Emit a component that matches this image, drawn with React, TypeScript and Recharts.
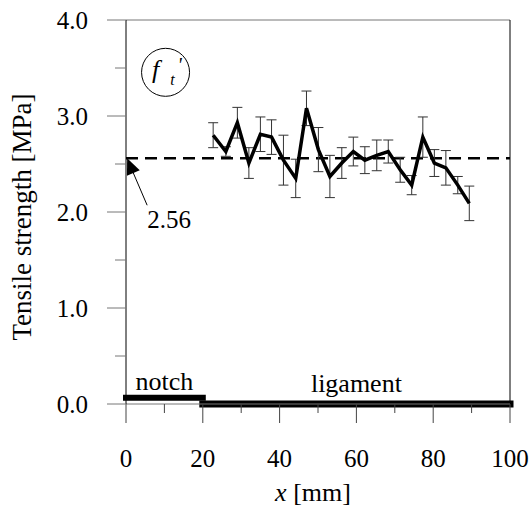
import { ComposedChart, Line, ErrorBar, XAxis, YAxis, ReferenceLine, ReferenceDot, Label } from 'recharts';

const positions = [22.7, 26.0, 29.0, 32.0, 35.0, 37.9, 41.0, 44.2, 47.0, 50.1, 53.1, 56.2, 59.2, 62.2, 65.3, 68.3, 71.4, 74.4, 77.3, 80.3, 83.3, 86.4, 89.4];
const strength = [2.80, 2.63, 2.93, 2.51, 2.81, 2.78, 2.54, 2.35, 3.08, 2.65, 2.37, 2.51, 2.63, 2.54, 2.59, 2.63, 2.44, 2.28, 2.78, 2.51, 2.46, 2.28, 2.09];
const deviation = [0.13, 0.05, 0.16, 0.16, 0.18, 0.18, 0.26, 0.20, 0.18, 0.23, 0.22, 0.16, 0.15, 0.14, 0.16, 0.12, 0.13, 0.10, 0.21, 0.14, 0.18, 0.09, 0.18];

const xTicks = [0, 10, 20, 30, 40, 50, 60, 70, 80, 90, 100];
const yTicks = [0, 0.5, 1, 1.5, 2, 2.5, 3, 3.5, 4];

const meanStrength = 2.56;
const notch = [0, 20];
const notchLevel = 0.065;
const ligament = [20, 100];

const data = positions.map((x, i) => ({ x, y: strength[i], err: deviation[i] }));

const FONT = '"Liberation Serif", "Times New Roman", Times, serif';

// page-level css: no body margin (we pad ourselves), serif everywhere in the svg
const css = `
body { margin: 0; overflow: hidden; }
.fig svg text, .fig svg tspan { font-family: ${FONT} !important; }
`;

const T = ({ children, italic, ...rest }: any) => (
    <text {...rest} fontFamily={FONT} fontStyle={italic ? 'italic' : 'normal'} fill="#000">
        {children}
    </text>
);

const XTick = (props: any) => {
    const { x, y, payload } = props;
    const major = payload.value % 20 === 0;
    return (
        <g>
            <line x1={x} y1={y} x2={x} y2={y + (major ? 19 : 9)} stroke="#444" />
            {major && (
                <T x={x} y={y + 63} textAnchor="middle" fontSize={25}>
                    {payload.value}
                </T>
            )}
        </g>
    );
};

const YTick = (props: any) => {
    const { x, y, payload } = props;
    const major = Number.isInteger(payload.value);
    return (
        <g>
            <line x1={x - (major ? 19 : 11)} y1={y} x2={x} y2={y} stroke="#777" />
            {major && (
                <T x={x - 38} y={y + 9} textAnchor="end" fontSize={25}>
                    {payload.value.toFixed(1)}
                </T>
            )}
        </g>
    );
};

const App = () => {
    return (
        <div className="fig" style={{ padding: '8px 0 0 8px', fontFamily: FONT }}>
            <style>{css}</style>
            <ComposedChart width={523} height={498} data={data} margin={{ top: 12, right: 21, bottom: 0, left: 0 }}>
                <XAxis
                    type="number"
                    dataKey="x"
                    domain={[0, 100]}
                    ticks={xTicks}
                    interval={0}
                    tickSize={0}
                    tickMargin={0}
                    tickLine={false}
                    tick={<XTick />}
                    axisLine={{ stroke: '#777' }}
                    height={102}
                >
                    <Label
                        content={(p: any) => {
                            const vb = p.viewBox;
                            return (
                                <T x={vb.x + vb.width / 2 - 5} y={vb.y + 97} textAnchor="middle" fontSize={26}>
                                    <tspan fontStyle="italic">x</tspan> [mm]
                                </T>
                            );
                        }}
                    />
                </XAxis>
                <YAxis
                    type="number"
                    domain={[0, 4]}
                    ticks={yTicks}
                    interval={0}
                    tickSize={0}
                    tickMargin={0}
                    tickLine={false}
                    tick={<YTick />}
                    axisLine={{ stroke: '#000' }}
                    width={118}
                >
                    <Label
                        content={(p: any) => {
                            const vb = p.viewBox;
                            const cy = vb.y + vb.height / 2 + 5;
                            return (
                                <T x={23} y={cy} transform={`rotate(-90, 23, ${cy})`} textAnchor="middle" fontSize={27}>
                                    Tensile strength [MPa]
                                </T>
                            );
                        }}
                    />
                </YAxis>
                <ReferenceLine y={4} stroke="#777" />
                <ReferenceLine x={100} stroke="#000" />
                <ReferenceLine y={meanStrength} stroke="#000" strokeWidth={2.5} strokeDasharray="12 7" />
                <ReferenceLine
                    segment={[{ x: notch[0], y: notchLevel }, { x: notch[1], y: notchLevel }]}
                    stroke="#000"
                    strokeWidth={6}
                    strokeLinecap="square"
                />
                <ReferenceLine
                    segment={[{ x: ligament[0], y: 0 }, { x: ligament[1], y: 0 }]}
                    stroke="#000"
                    strokeWidth={7}
                    strokeLinecap="square"
                />
                <ReferenceDot
                    x={10}
                    y={0}
                    shape={(p: any) => (
                        <T x={p.cx} y={p.cy - 14} textAnchor="middle" fontSize={26}>notch</T>
                    )}
                />
                <ReferenceDot
                    x={60}
                    y={0}
                    shape={(p: any) => (
                        <T x={p.cx} y={p.cy - 12} textAnchor="middle" fontSize={26}>ligament</T>
                    )}
                />
                <ReferenceDot
                    x={0.3}
                    y={meanStrength}
                    shape={(p: any) => (
                        <g>
                            <polygon points={`${p.cx},${p.cy} ${p.cx + 12.6},${p.cy + 12} ${p.cx - 0.2},${p.cy + 17.4}`} fill="#000" />
                            <line x1={p.cx + 5} y1={p.cy + 12} x2={p.cx + 20} y2={p.cy + 47} stroke="#000" strokeWidth={1} />
                            <T x={p.cx + 20} y={p.cy + 70} fontSize={25}>{meanStrength.toFixed(2)}</T>
                        </g>
                    )}
                />
                <ReferenceDot
                    x={10.3}
                    y={3.455}
                    shape={(p: any) => (
                        <g>
                            <circle cx={p.cx} cy={p.cy} r={24} fill="none" stroke="#000" strokeWidth={1} />
                            <T x={p.cx - 10} y={p.cy + 5.5} textAnchor="middle" fontSize={26} italic>f</T>
                            <T x={p.cx + 7} y={p.cy + 12.7} textAnchor="middle" fontSize={16} italic>t</T>
                            <T x={p.cx + 14} y={p.cy - 0.7} textAnchor="middle" fontSize={20} italic>'</T>
                        </g>
                    )}
                />
                <Line
                    type="linear"
                    dataKey="y"
                    stroke="#000"
                    strokeWidth={3.5}
                    dot={false}
                    isAnimationActive={false}
                >
                    <ErrorBar dataKey="err" direction="y" width={5} stroke="#333" strokeWidth={1} isAnimationActive={false} />
                </Line>
            </ComposedChart>
        </div>
    );
};

export default App;
